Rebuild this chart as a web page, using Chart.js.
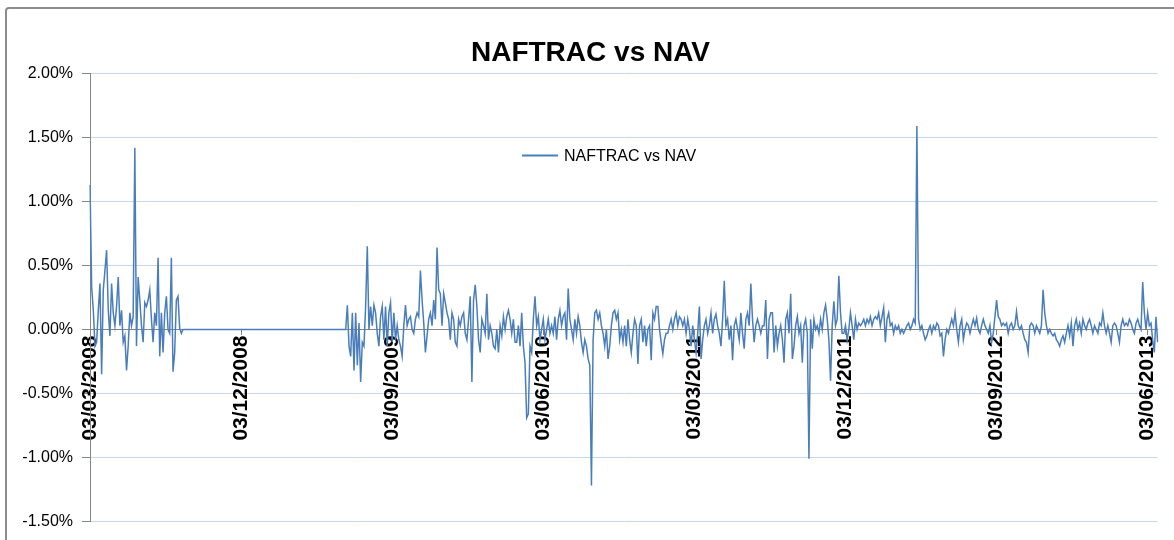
<!DOCTYPE html>
<html>
<head>
<meta charset="utf-8">
<script src="https://cdn.jsdelivr.net/npm/chart.js@4.4.0/dist/chart.umd.min.js"></script>
<style>
body { margin: 0; background: #fff; }
#wrap { position: relative; width: 1174px; height: 540px; overflow: hidden; }
#frame { position: absolute; left: 5px; top: 7px; width: 1200px; height: 600px; border: 2px solid #8c8c8c; border-radius: 4px; box-sizing: border-box; }
canvas { position: absolute; left: 0; top: 0; }
</style>
</head>
<body>
<div id="wrap"><div id="frame"></div><canvas id="myChart" width="1174" height="540"></canvas></div>
<script>
// NAFTRAC price vs NAV, in percent, one reading every 3 days
var spread = [
	// 2008
	1.13, 0.33, 0.15, -0.13, -0.10, 0.15, 0.36, -0.35, 0.31, 0.46,
	0.62, 0.15, -0.05, 0.36, 0.13, 0.03, 0.18, 0.41, 0.03, 0.15,
	-0.10, -0.05, -0.32, -0.13, 0.13, 0.03, 0.10, 1.42, -0.13, 0.41,
	0.23, 0.03, -0.10, 0.21, 0.18, 0.23, 0.31, 0.08, -0.10, 0.13,
	0.03, 0.56, -0.21, 0.13, -0.18, 0.13, 0.26, 0.00, -0.03, 0.56,
	-0.33, -0.18, 0.23, 0.26, 0.01, -0.03,
	// no quotes: flat
	0, 0, 0, 0, 0, 0, 0, 0, 0, 0,
	0, 0, 0, 0, 0, 0, 0, 0, 0, 0,
	0, 0, 0, 0, 0, 0, 0, 0, 0, 0,
	0, 0, 0, 0, 0, 0, 0, 0, 0, 0,
	0, 0, 0, 0, 0, 0, 0, 0, 0, 0,
	0, 0, 0, 0, 0, 0, 0, 0, 0, 0,
	0, 0, 0, 0, 0, 0, 0, 0, 0, 0,
	0, 0, 0, 0, 0, 0, 0, 0, 0, 0,
	0, 0, 0, 0, 0, 0, 0, 0, 0, 0,
	0, 0, 0, 0, 0, 0, 0, 0, 0,
	// 2009
	0.19, -0.13, -0.21, 0.13, -0.32, 0.13, -0.28, 0.05, -0.41, -0.10,
	-0.13, 0.18, 0.65, 0.00, 0.18, 0.03, 0.19, 0.13, -0.03, -0.13,
	0.10, 0.18, -0.08, 0.18, -0.13, 0.13, 0.21, -0.10, 0.13, -0.08,
	0.03, -0.08, -0.13, -0.21, 0.03, 0.19, 0.03, 0.08, 0.10, 0.00,
	-0.03, 0.08, 0.13, 0.10, 0.46, 0.23, 0.05, -0.18, -0.05, 0.08,
	0.13, 0.03, 0.23, 0.08, 0.64, 0.31, 0.28, 0.03, 0.28, 0.21,
	0.13, 0.08, -0.08, 0.13, 0.08, -0.10, -0.13, 0.08, 0.03, 0.10,
	0.13, -0.03, -0.08, 0.08, 0.26, -0.41, 0.23, 0.35, 0.18,
	// 2010
	-0.08, -0.18, 0.08, 0.03, -0.03, 0.28, -0.08, 0.03, -0.03, -0.13,
	-0.15, 0.00, -0.18, 0.03, -0.05, 0.10, 0.00, 0.10, 0.15, 0.08,
	-0.03, 0.08, -0.10, -0.10, 0.03, -0.13, 0.13, -0.13, -0.26, -0.69,
	-0.66, -0.13, -0.18, 0.08, 0.26, 0.03, 0.10, -0.08, 0.00, 0.08,
	-0.08, 0.00, 0.08, -0.03, 0.03, -0.03, 0.10, -0.08, 0.08, 0.15,
	0.03, 0.10, 0.13, -0.08, 0.32, 0.08, 0.00, -0.08, 0.08, -0.03,
	0.10, 0.03, -0.10, -0.18, -0.08, -0.13, -0.23, -0.28, -1.22, -0.08,
	0.13, 0.15, 0.08, 0.13, 0.03, -0.03, -0.13, 0.00, -0.23, -0.13,
	0.03, 0.13, 0.15, 0.08, 0.13, -0.08, 0.00,
	// 2011
	-0.10, 0.03, -0.13, 0.08, -0.08, -0.18, -0.03, 0.08, 0.03, -0.27,
	0.03, 0.08, -0.10, 0.03, -0.13, 0.00, 0.03, -0.24, 0.13, 0.08,
	0.18, 0.18, 0.00, -0.10, -0.19, -0.08, -0.03, -0.03, 0.03, 0.08,
	0.00, 0.08, 0.13, 0.03, 0.10, 0.08, 0.03, 0.08, -0.03, 0.08,
	0.00, -0.13, 0.03, -0.08, -0.18, -0.03, 0.18, -0.23, -0.08, 0.03,
	0.08, -0.03, 0.03, 0.13, -0.03, 0.08, 0.12, 0.03, -0.03, -0.13,
	0.08, 0.38, 0.03, 0.08, -0.08, 0.03, -0.24, 0.03, 0.08, 0.00,
	-0.08, 0.13, -0.03, -0.15, 0.08, 0.13, 0.03, 0.36, 0.08, -0.10,
	0.03, 0.08, 0.03, -0.03, 0.03, 0.03, 0.23,
	-0.23, 0.08, 0.13, 0.13, -0.18, 0.03, -0.13, -0.03, 0.03, -0.08,
	-0.26, 0.08, 0.13, -0.03, 0.28, -0.23, -0.13, 0.03, 0.10, -0.03,
	0.03, -0.26, 0.03, 0.08, -0.03,
	-1.01, 0.08, -0.15, 0.08, 0.00, 0.03, -0.03, 0.08, 0.00, 0.13,
	0.19, 0.08, -0.08, -0.40, 0.03, 0.22, 0.03, 0.08, 0.42,
	// 2012
	0.13, -0.03, -0.03, 0.03, -0.08, 0.00, 0.13, 0.03, -0.08, 0.08,
	0.00, 0.05, 0.03, 0.05, 0.08, 0.03, 0.08, 0.05, 0.10, 0.03,
	0.08, 0.10, 0.08, 0.13, 0.03, 0.10, 0.17, -0.10, 0.08, 0.13,
	0.03, 0.05, -0.03, 0.03, 0.00, 0.03, -0.03, 0.00, -0.03, 0.00,
	0.03, 0.05, 0.00,
	0.03, 0.08, 0.05, 1.59, 0.08, 0.00, 0.03, -0.03, -0.08, -0.05,
	0.00, 0.03, -0.03, 0.03, 0.00, 0.05, 0.03, -0.05, -0.03, -0.21,
	-0.08, 0.00, -0.03, 0.03, 0.08, 0.03, 0.13, 0.00, -0.10, 0.03,
	0.08, -0.08, 0.00, 0.05, 0.03, -0.03, 0.03, 0.08, 0.03, 0.09,
	0.00, -0.03, 0.03, 0.08, 0.03, 0.00, -0.03, 0.03, -0.10, -0.03,
	0.10, 0.23, 0.10, 0.08, 0.03, 0.05, 0.03, 0.05, -0.03, 0.03,
	0.05, 0.00, 0.03, 0.14, 0.03, 0.00, 0.03, -0.03, -0.08, -0.10,
	-0.18, 0.03, 0.05, 0.03, -0.03, 0.03, 0.00,
	// 2013
	-0.03, 0.03, 0.31, 0.13, 0.03, -0.03, 0.00, -0.03, -0.05, -0.03,
	-0.08, -0.10, -0.13, -0.08, -0.05, -0.10, -0.03, 0.03, -0.05, 0.05,
	-0.13, 0.03, 0.08, 0.00, 0.05, -0.03, 0.08, 0.03, 0.00, 0.05,
	0.08, 0.03, -0.03, 0.03, 0.00, -0.03, 0.05, 0.03, 0.13, 0.03,
	-0.03, 0.03, -0.03, -0.10, 0.03, 0.05, 0.03, -0.03, -0.10, 0.03,
	0.08, 0.03, 0.05, 0.03, 0.08, 0.05, 0.00, -0.03, 0.05, 0.08,
	0.03, 0.00, 0.37, 0.13, 0.00, 0.13, 0.03, 0.05, -0.08, -0.18,
	0.10, -0.10
];

// date labels shown on the axis, one every 91 readings (9 months)
var tickLabels = ['03/03/2008', '03/12/2008', '03/09/2009', '03/06/2010', '03/03/2011', '03/12/2011', '03/09/2012', '03/06/2013'];
var tickEvery = 91;

// one category per reading, 3 days apart from 03/03/2008
var days = [];
var start = new Date(2008, 2, 3);
for (var i = 0; i < spread.length; i++) {
	var d = new Date(start.getTime());
	d.setDate(d.getDate() + i * 3);
	days.push(('0' + d.getDate()).slice(-2) + '/' + ('0' + (d.getMonth() + 1)).slice(-2) + '/' + d.getFullYear());
}

var fam = "'Liberation Sans', Arial, sans-serif";

// legend sits inside the plot, like the Excel one
var insideLegend = {
	id: 'insideLegend',
	afterDraw: function(chart) {
		var c = chart.ctx, a = chart.chartArea, ds = chart.data.datasets[0];
		var x = a.left + 432, y = a.top + 82;
		c.save();
		c.strokeStyle = ds.borderColor;
		c.lineWidth = 2;
		c.beginPath();
		c.moveTo(x, y);
		c.lineTo(x + 36, y);
		c.stroke();
		c.fillStyle = '#000';
		c.font = '16px ' + fam;
		c.textBaseline = 'middle';
		c.fillText(ds.label, x + 42, y + 1);
		c.restore();
	}
};

var ctx = document.getElementById('myChart').getContext('2d');
var myChart = new Chart(ctx, {
	type: 'line',
	data: {
		labels: days,
		datasets: [{
			label: 'NAFTRAC vs NAV',
			data: spread,
			borderColor: '#4a7ebb',
			backgroundColor: '#4a7ebb',
			borderWidth: 1.5,
			pointRadius: 0,
			tension: 0
		}]
	},
	plugins: [insideLegend],
	options: {
		responsive: false,
		animation: false,
		layout: { padding: { left: 20, right: 13, top: 10, bottom: 6 } },
		plugins: {
			title: {
				display: true,
				text: 'NAFTRAC vs NAV',
				color: '#000',
				font: { family: fam, size: 28, weight: 'bold' },
				padding: { top: 26, bottom: 4 }
			},
			legend: { display: false },
			tooltip: { enabled: false }
		},
		scales: {
			x: {
				position: { y: 0 },
				offset: false,
				grid: { drawOnChartArea: false, tickLength: 5, tickColor: '#868686' },
				border: { color: '#868686' },
				afterBuildTicks: function(axis) {
					axis.ticks = tickLabels.map(function(t, k) { return { value: k * tickEvery }; });
				},
				afterFit: function(s) { s.height = 6; },
				ticks: {
					autoSkip: false,
					maxRotation: 90,
					minRotation: 90,
					padding: 1,
					color: '#000',
					font: { family: fam, size: 21, weight: 'bold' },
					callback: function(value, index) { return tickLabels[index]; }
				}
			},
			y: {
				min: -1.5,
				max: 2,
				grid: { color: '#c6d6ee', tickLength: 8, tickColor: '#868686' },
				border: { color: '#868686' },
				ticks: {
					stepSize: 0.5,
					padding: 9,
					color: '#000',
					font: { family: fam, size: 16 },
					callback: function(v) { return v.toFixed(2) + '%'; }
				},
				afterFit: function(s) { s.width = 70; }
			}
		}
	}
});
</script>
</body>
</html>
